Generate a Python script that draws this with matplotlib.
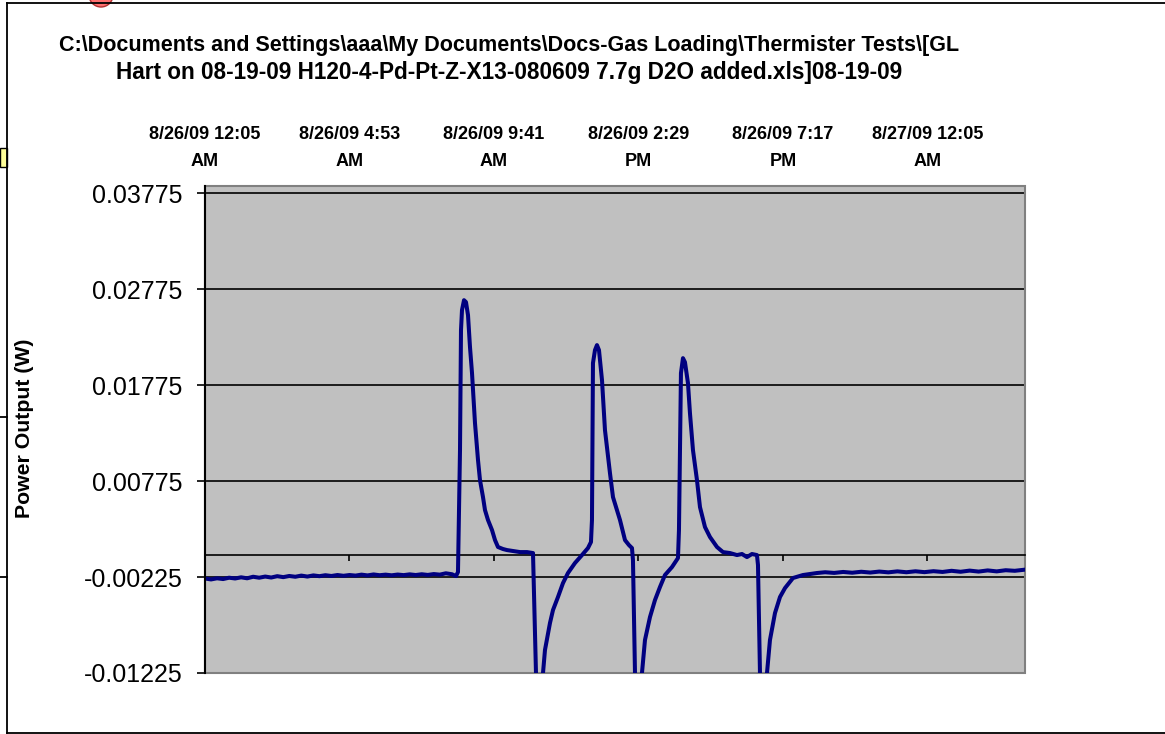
import matplotlib
matplotlib.use("Agg")
import matplotlib.pyplot as plt
from matplotlib.patches import Rectangle, Ellipse
from matplotlib.lines import Line2D

# ---- data (hours after 8/26/09 12:05 AM, power in W) ----
hours = [0.00, 0.20, 0.40, 0.60, 0.80, 1.00, 1.20, 1.40, 1.60, 1.80,
         2.00, 2.20, 2.40, 2.60, 2.80, 3.00, 3.20, 3.40, 3.60, 3.80,
         4.00, 4.20, 4.40, 4.60, 4.80, 5.00, 5.20, 5.40, 5.60, 5.80,
         6.00, 6.20, 6.40, 6.60, 6.80, 7.00, 7.20, 7.40, 7.60, 7.80,
         8.00, 8.205, 8.338, 8.404, 8.471,
         8.504, 8.537, 8.604, 8.670, 8.737, 8.803, 8.870, 8.969, 9.069, 9.135,
         9.235, 9.301, 9.401, 9.534, 9.634, 9.733, 9.899, 10.032, 10.232, 10.464,
         10.696, 10.896, 10.995, 11.095, 11.228, 11.294, 11.460, 11.560, 11.726, 11.892,
         12.058, 12.290, 12.523, 12.722, 12.822, 12.855, 12.888, 12.955, 13.021, 13.088,
         13.188, 13.287, 13.453, 13.553, 13.686, 13.786, 13.952, 14.084, 14.184, 14.217,
         14.284, 14.383, 14.516, 14.616, 14.782, 14.948, 15.114, 15.280, 15.513, 15.712,
         15.745, 15.811, 15.878, 15.944, 16.044, 16.110, 16.210, 16.343, 16.443, 16.609,
         16.775, 17.008, 17.207, 17.440, 17.672, 17.838, 18.004, 18.170, 18.336, 18.370,
         18.436, 18.536, 18.669, 18.768, 18.935, 19.101, 19.267, 19.533, 19.865, 20.330,
         20.60, 20.90, 21.20, 21.50, 21.80, 22.10, 22.40, 22.70, 23.00, 23.30,
         23.60, 23.90, 24.20, 24.50, 24.80, 25.10, 25.40, 25.70, 26.00, 26.30,
         26.60, 26.90, 27.24]
power = [-0.00240, -0.00250, -0.00238, -0.00246, -0.00232, -0.00240, -0.00228, -0.00238, -0.00222, -0.00232,
         -0.00220, -0.00230, -0.00216, -0.00226, -0.00214, -0.00222, -0.00210, -0.00220, -0.00208, -0.00216,
         -0.00206, -0.00214, -0.00204, -0.00212, -0.00204, -0.00210, -0.00200, -0.00208, -0.00198, -0.00206,
         -0.00200, -0.00207, -0.00199, -0.00205, -0.00197, -0.00204, -0.00196, -0.00203, -0.00194, -0.00200,
         -0.00186, -0.00196, -0.00215, -0.00173, 0.01098,
         0.02348, 0.02556, 0.02660, 0.02640, 0.02504, 0.02171, 0.01900, 0.01379, 0.00994, 0.00785,
         0.00608, 0.00473, 0.00369, 0.00265, 0.00160, 0.00088, 0.00067, 0.00056, 0.00046, 0.00035,
         0.00035, 0.00025, -0.01225, -0.01715, -0.01225, -0.00985, -0.00704, -0.00569, -0.00433, -0.00288,
         -0.00183, -0.00079, 0.00004, 0.00077, 0.00140, 0.00369, 0.02004, 0.02140, 0.02192, 0.02140,
         0.01827, 0.01306, 0.00858, 0.00608, 0.00473, 0.00369, 0.00160, 0.00108, 0.00077, -0.00048,
         -0.01225, -0.01663, -0.01225, -0.00881, -0.00642, -0.00465, -0.00329, -0.00204, -0.00121, -0.00027,
         0.00265, 0.01900, 0.02056, 0.02014, 0.01796, 0.01483, 0.01098, 0.00785, 0.00504, 0.00296,
         0.00192, 0.00088, 0.00035, 0.00025, 0.00004, 0.00015, -0.00017, 0.00015, 0.00004, -0.00100,
         -0.01225, -0.01715, -0.01225, -0.00881, -0.00600, -0.00433, -0.00340, -0.00235, -0.00204, -0.00183,
         -0.00175, -0.00182, -0.00172, -0.00180, -0.00170, -0.00178, -0.00168, -0.00176, -0.00166, -0.00175,
         -0.00165, -0.00174, -0.00164, -0.00172, -0.00160, -0.00170, -0.00158, -0.00168, -0.00156, -0.00166,
         -0.00154, -0.00160, -0.00148]

tick_hours = [0.0, 4.8, 9.6, 14.4, 19.2, 24.0]
tick_labels = ["8/26/09 12:05\nAM", "8/26/09 4:53\nAM", "8/26/09 9:41\nAM",
               "8/26/09 2:29\nPM", "8/26/09 7:17\nPM", "8/27/09 12:05\nAM"]
y_ticks = [-0.01225, -0.00225, 0.00775, 0.01775, 0.02775, 0.03775]
y_tick_labels = ["-0.01225", "-0.00225", "0.00775", "0.01775", "0.02775", "0.03775"]

title_lines = ["C:\\Documents and Settings\\aaa\\My Documents\\Docs-Gas Loading\\Thermister Tests\\[GL",
               "Hart on 08-19-09 H120-4-Pd-Pt-Z-X13-080609 7.7g D2O added.xls]08-19-09"]
y_label = "Power Output (W)"

plt.rcParams['font.family'] = ['Liberation Sans', 'DejaVu Sans']

W, H = 1165, 734
fig = plt.figure(figsize=(W / 100, H / 100), dpi=100)
fig.patch.set_facecolor('white')

ax = fig.add_axes([205 / W, 1 - 673 / H, 820 / W, (673 - 186) / H])
ax.set_facecolor('#C0C0C0')
ax.set_xlim(0, 27.24)
ax.set_ylim(-0.01225, 0.0385)

for yv in y_ticks:
    ax.axhline(yv, color='black', lw=1.2, zorder=1)

ax.plot(hours, power, color='#000080', lw=2.9, zorder=3, solid_joinstyle='round')

ax.set_yticks(y_ticks)
ax.set_yticklabels(y_tick_labels, fontsize=18)
ax.tick_params(axis='y', direction='out', length=6, width=1.2, pad=10, colors='black')

# x-axis line crossing at 0 with downward ticks, labels shown on top
ax.spines['bottom'].set_position(('data', 0))
ax.spines['bottom'].set_linewidth(1.2)
ax.spines['bottom'].set_zorder(2)
ax.set_xticks(tick_hours)
ax.tick_params(axis='x', direction='out', length=4, width=1.2, labelbottom=False)
for s in ['top', 'right']:
    ax.spines[s].set_visible(False)
ax.spines['left'].set_linewidth(1.5)
ax.spines['left'].set_zorder(4)

# plot-area border (grey)
ax.add_patch(Rectangle((0, 0), 1, 1, transform=ax.transAxes, fill=False,
                       edgecolor='#808080', lw=1.5, clip_on=False, zorder=2))

sec = ax.secondary_xaxis('top')
sec.set_xticks(tick_hours)
sec.set_xticklabels(tick_labels, fontsize=13, fontweight='bold', linespacing=1.75)
sec.tick_params(axis='x', length=0, pad=11.5)
sec.spines['top'].set_visible(False)

# title and y label
fig.text(509 / W, 1 - 45 / H, title_lines[0], ha='center', va='center',
         fontsize=15.5, fontweight='bold')
fig.text(509 / W, 1 - 73 / H, title_lines[1], ha='center', va='center',
         fontsize=16.3, fontweight='bold')
fig.text(25 / W, 1 - 428 / H, y_label, rotation=90, ha='center', va='center',
         fontsize=15.3, fontweight='bold')

# chart area border and edge remnants
fig.add_artist(Line2D([6.5 / W, 6.5 / W], [1 - 3 / H, 1 - 733 / H], color='black', lw=1.3))
fig.add_artist(Line2D([6.5 / W, 1.0], [1 - 3 / H, 1 - 3 / H], color='black', lw=1.3))
fig.add_artist(Line2D([6.5 / W, 1.0], [1 - 733 / H, 1 - 733 / H], color='black', lw=1.3))
fig.add_artist(Rectangle((0, 1 - 167 / H), 6.5 / W, 19 / H, transform=fig.transFigure,
                         facecolor='#FFFF99', edgecolor='black', lw=1.0))
fig.add_artist(Ellipse((101 / W, 1 + 5 / H), 24 / W, 24 / H, transform=fig.transFigure,
                       facecolor='#FF6F6F', edgecolor='#B03030', lw=1.0))
for yy in [417, 577]:
    fig.add_artist(Line2D([0, 6.5 / W], [1 - yy / H, 1 - yy / H], color='black', lw=1.3))

fig.savefig('out.png', dpi=100)
